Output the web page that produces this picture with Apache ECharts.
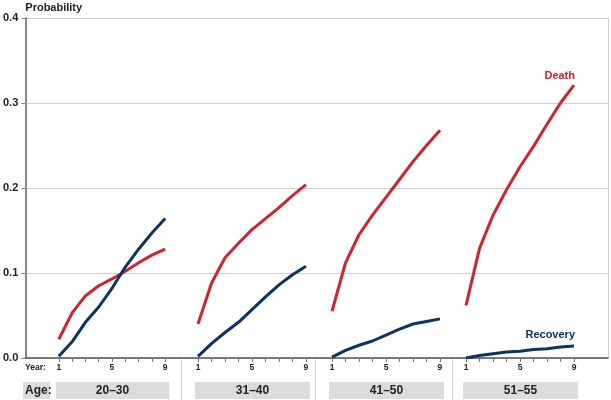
<!DOCTYPE html>
<html><head><meta charset="utf-8">
<script src="https://cdn.jsdelivr.net/npm/echarts@6/dist/echarts.min.js"></script>
<style>html,body{margin:0;padding:0;background:#fff}#c{width:611px;height:400px}</style>
</head><body><div id="c"></div>
<script>
const years = [1, 2, 3, 4, 5, 6, 7, 8, 9];
const yearLabels = [1, 5, 9];
const ageGroups = ['20–30', '31–40', '41–50', '51–55'];
const yTicks = [0, 0.1, 0.2, 0.3, 0.4];
const death2030 = [0.022, 0.053, 0.073, 0.085, 0.093, 0.102, 0.112, 0.121, 0.128];
const recovery2030 = [0.002, 0.019, 0.042, 0.060, 0.082, 0.107, 0.128, 0.147, 0.164];
const death3140 = [0.040, 0.088, 0.118, 0.135, 0.151, 0.164, 0.177, 0.191, 0.204];
const recovery3140 = [0.002, 0.017, 0.030, 0.042, 0.057, 0.072, 0.086, 0.098, 0.108];
const death4150 = [0.055, 0.112, 0.145, 0.168, 0.189, 0.210, 0.231, 0.250, 0.268];
const recovery4150 = [0.001, 0.009, 0.015, 0.020, 0.027, 0.034, 0.040, 0.043, 0.046];
const death5155 = [0.062, 0.129, 0.168, 0.198, 0.225, 0.249, 0.275, 0.300, 0.321];
const recovery5155 = [0.000, 0.003, 0.005, 0.007, 0.008, 0.010, 0.011, 0.013, 0.014];

const deathSets = [death2030, death3140, death4150, death5155];
const recoverySets = [recovery2030, recovery3140, recovery4150, recovery5155];

// layout
const FONT = '"Liberation Sans", Arial, Helvetica, sans-serif';
const RED = '#d5202e', NAVY = '#0b3363';
const edges = [23, 181, 315, 452, 608];
const panelMin = [-1.52, -0.26, -0.26, -0.04];
const panelMax = [10.19, 9.67, 9.89, 11.52];
const TOP = 18, AXIS_Y = 358;

const chart = echarts.init(document.getElementById('c'), null, {renderer: 'canvas'});

const grids = [], xAxes = [], yAxes = [], series = [];
for (let i = 0; i < 4; i++) {
  grids.push({left: edges[i], width: edges[i + 1] - edges[i], top: TOP, height: AXIS_Y - TOP, containLabel: false});
  xAxes.push({
    type: 'value', gridIndex: i, min: panelMin[i], max: panelMax[i],
    axisLine: {show: true, onZero: false, lineStyle: {color: '#555', width: 1.5}},
    axisTick: {show: true, customValues: years, length: 4, lineStyle: {color: '#777', width: 1}},
    axisLabel: {show: true, customValues: yearLabels, margin: 5, fontSize: 8.5, fontWeight: 'bold', color: '#222', fontFamily: FONT},
    splitLine: {show: false}
  });
  yAxes.push({
    type: 'value', gridIndex: i, min: 0, max: 0.4, interval: 0.1,
    axisLine: {show: i === 0, onZero: false, lineStyle: {color: '#888', width: 2}},
    axisTick: {show: i === 0, length: 4, lineStyle: {color: '#888'}},
    axisLabel: {show: i === 0, margin: 7, fontSize: 11, fontWeight: 'bold', color: '#222', fontFamily: FONT,
      formatter: v => v.toFixed(1)},
    splitLine: {show: true, lineStyle: {color: '#cfcfcf', width: 1}},
    name: i === 0 ? 'Probability' : '',
    nameLocation: 'end', nameGap: 5,
    nameTextStyle: {align: 'left', fontSize: 11, fontWeight: 'bold', color: '#222', fontFamily: FONT}
  });
  const last = i === 3;
  series.push({
    type: 'line', name: 'Death', xAxisIndex: i, yAxisIndex: i, symbol: 'circle', symbolSize: 0, showSymbol: true, smooth: false,
    lineStyle: {color: RED, width: 3}, itemStyle: {color: RED}, z: 3,
    data: years.map((y, k) => {
      const d = {value: [y, deathSets[i][k]]};
      if (last && k === years.length - 1) d.label = {show: true, position: 'top', align: 'right', distance: 4, offset: [1, 0],
        formatter: 'Death', color: RED, fontSize: 11, fontWeight: 'bold', fontFamily: FONT};
      return d;
    })
  });
  series.push({
    type: 'line', name: 'Recovery', xAxisIndex: i, yAxisIndex: i, symbol: 'circle', symbolSize: 0, showSymbol: true, smooth: false,
    lineStyle: {color: NAVY, width: 3}, itemStyle: {color: NAVY}, z: 4,
    data: years.map((y, k) => {
      const d = {value: [y, recoverySets[i][k]]};
      if (last && k === years.length - 1) d.label = {show: true, position: 'top', align: 'right', distance: 6, offset: [1, 0],
        formatter: 'Recovery', color: NAVY, fontSize: 11, fontWeight: 'bold', fontFamily: FONT};
      return d;
    })
  });
}
// right border
yAxes.push({
  type: 'value', gridIndex: 3, min: 0, max: 0.4, position: 'right',
  axisLine: {show: true, onZero: false, lineStyle: {color: '#cfcfcf', width: 1}},
  axisTick: {show: false}, axisLabel: {show: false}, splitLine: {show: false}
});

chart.setOption({
  animation: false,
  textStyle: {fontFamily: FONT},
  grid: grids, xAxis: xAxes, yAxis: yAxes, series: series
});

// decorations below axis, positioned through axis scales
const g = [];
const y0 = chart.convertToPixel({yAxisIndex: 0}, 0);
const boxTop = y0 + 24, boxH = 17;
for (let i = 0; i < 4; i++) {
  const x1 = chart.convertToPixel({xAxisIndex: i}, years[0]);
  const x9 = chart.convertToPixel({xAxisIndex: i}, years[years.length - 1]);
  g.push({type: 'rect', shape: {x: x1 - 3, y: boxTop, width: (x9 - x1) + 7, height: boxH},
    style: {fill: '#dcdcdc'}, silent: true});
  g.push({type: 'text', x: (x1 - 3 + x9 + 4) / 2, y: boxTop + boxH / 2 + 0.5,
    style: {text: ageGroups[i], fill: '#222', font: 'bold 12px ' + FONT, align: 'center', verticalAlign: 'middle'}});
  if (i > 0) {
    g.push({type: 'line', shape: {x1: edges[i] + 0.5, y1: y0 + 2, x2: edges[i] + 0.5, y2: 400},
      style: {stroke: '#cfcfcf', lineWidth: 1}, silent: true});
  }
}
g.push({type: 'rect', shape: {x: edges[0], y: boxTop, width: 27, height: boxH}, style: {fill: '#dcdcdc'}, silent: true});
g.push({type: 'text', x: edges[0] + 2, y: boxTop + boxH / 2 + 0.5,
  style: {text: 'Age:', fill: '#222', font: 'bold 12px ' + FONT, align: 'left', verticalAlign: 'middle'}});
g.push({type: 'text', x: edges[0] + 2, y: y0 + 10,
  style: {text: 'Year:', fill: '#222', font: 'bold 8.5px ' + FONT, align: 'left', verticalAlign: 'middle'}});
chart.setOption({graphic: g});
</script></body></html>
